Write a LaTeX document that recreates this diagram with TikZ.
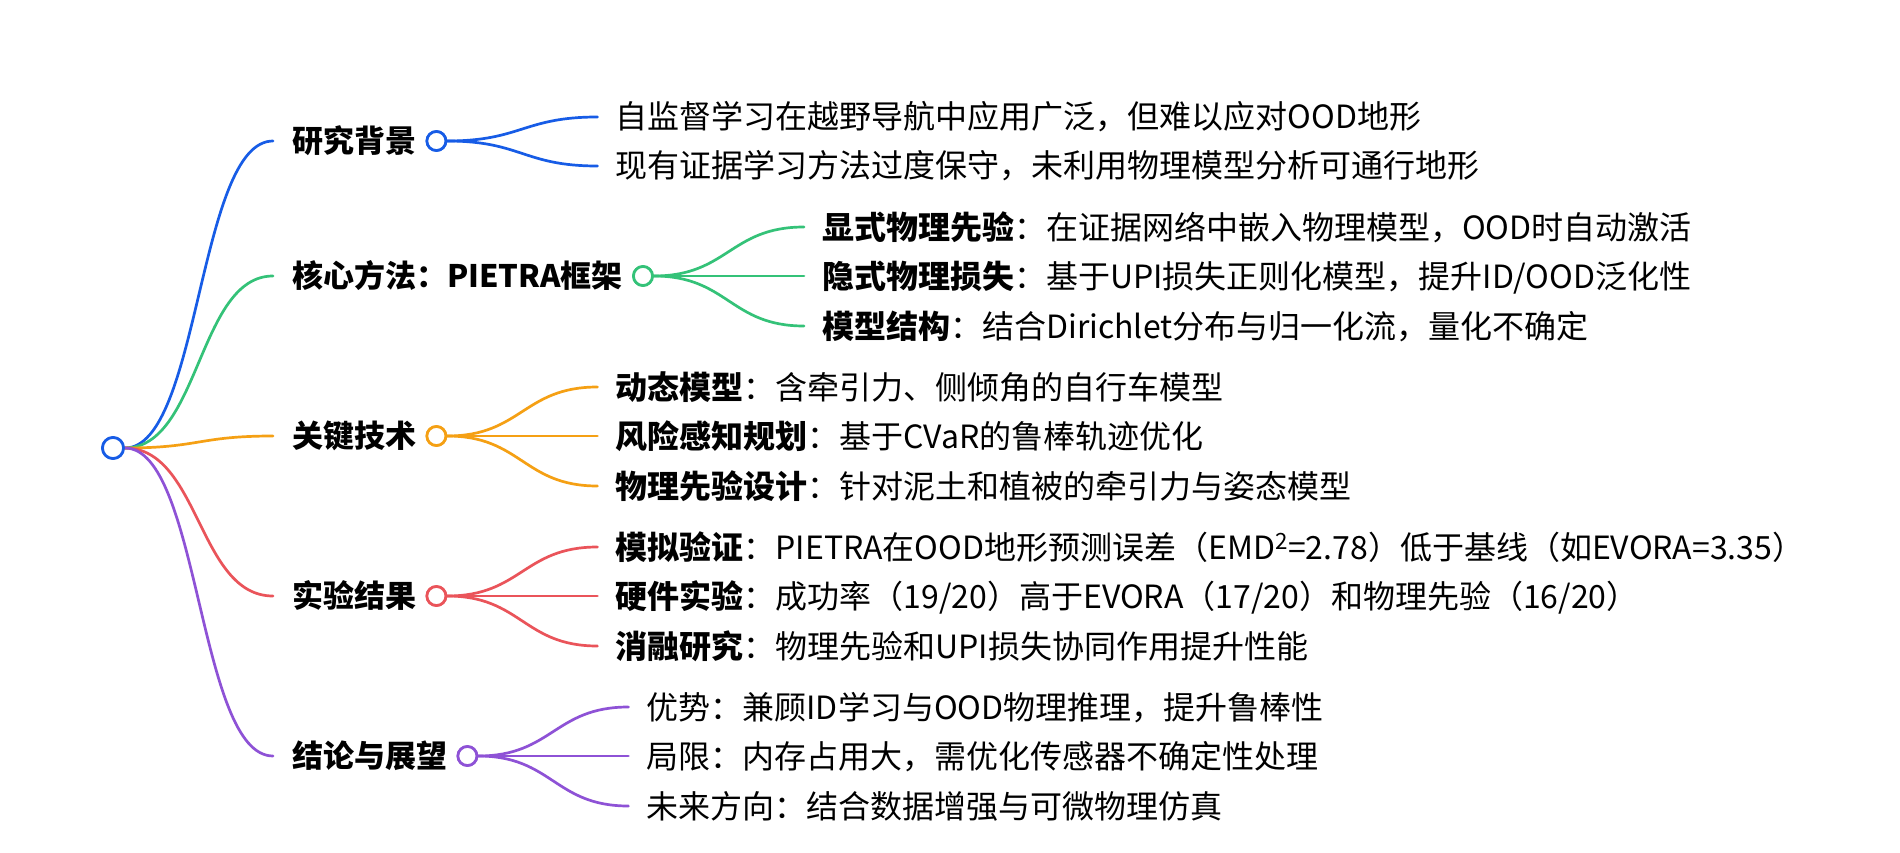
\documentclass[tikz,border=0pt]{standalone}
\usepackage{fontspec}
\setmainfont{Noto Sans CJK SC}
\usetikzlibrary{calc}
\definecolor{cblue}{RGB}{23,92,230}
\definecolor{cgreen}{RGB}{52,194,120}
\definecolor{corange}{RGB}{245,160,20}
\definecolor{cred}{RGB}{234,84,90}
\definecolor{cpurple}{RGB}{142,82,214}
\tikzset{
  lnk/.style={line width=2.7pt, line cap=round},
  dot/.style={circle, draw, line width=2.7pt, fill=white, minimum size=19pt, inner sep=0pt},
  rootdot/.style={circle, draw, line width=2.7pt, fill=white, minimum size=21pt, inner sep=0pt},
  br/.style={anchor=west, inner sep=0pt, font=\fontsize{31}{37}\selectfont\bfseries, text height=27pt, text depth=4pt},
  leaf/.style={anchor=west, inner sep=0pt, font=\fontsize{32}{38}\selectfont, text height=28pt, text depth=4pt},
}
\begin{document}
\begin{tikzpicture}[x=1pt,y=-1pt]
\useasboundingbox[fill=white] (0,0) rectangle (1900,853);
% root
\node[rootdot, draw=cblue] (root) at (113,448) {};
% branch labels
\node[br] (t1) at (292,141) {研究背景};
\node[br] (t2) at (292,276) {核心方法：PIETRA框架};
\node[br] (t3) at (292,436) {关键技术};
\node[br] (t4) at (292,596) {实验结果};
\node[br] (t5) at (292,756) {结论与展望};
% branch line ends
\coordinate (s1) at (273,141);
\coordinate (s2) at (273,276);
\coordinate (s3) at (273,436);
\coordinate (s4) at (273,596);
\coordinate (s5) at (273,756);
% branch circles
\coordinate (c1) at ($(t1.east)+(20,0)$);
\coordinate (c2) at ($(t2.east)+(20,0)$);
\coordinate (c3) at ($(t3.east)+(20,0)$);
\coordinate (c4) at ($(t4.east)+(20,0)$);
\coordinate (c5) at ($(t5.east)+(20,0)$);
% leaves
\node[leaf] (l11) at ($(c1|-0,117)+(179,0)$) {自监督学习在越野导航中应用广泛，但难以应对OOD地形};
\node[leaf] (l12) at ($(c1|-0,166)+(179,0)$) {现有证据学习方法过度保守，未利用物理模型分析可通行地形};
\node[leaf] (l21) at ($(c2|-0,227)+(179,0)$) {\textbf{显式物理先验}：在证据网络中嵌入物理模型，OOD时自动激活};
\node[leaf] (l22) at ($(c2|-0,276)+(179,0)$) {\textbf{隐式物理损失}：基于UPI损失正则化模型，提升ID/OOD泛化性};
\node[leaf] (l23) at ($(c2|-0,326)+(179,0)$) {\textbf{模型结构}：结合Dirichlet分布与归一化流，量化不确定};
\node[leaf] (l31) at ($(c3|-0,387)+(179,0)$) {\textbf{动态模型}：含牵引力、侧倾角的自行车模型};
\node[leaf] (l32) at ($(c3|-0,436)+(179,0)$) {\textbf{风险感知规划}：基于CVaR的鲁棒轨迹优化};
\node[leaf] (l33) at ($(c3|-0,486)+(179,0)$) {\textbf{物理先验设计}：针对泥土和植被的牵引力与姿态模型};
\node[leaf] (l41) at ($(c4|-0,547)+(179,0)$) {\textbf{模拟验证}：PIETRA在OOD地形预测误差（EMD\textsuperscript{2}=2.78）低于基线（如EVORA=3.35）};
\node[leaf] (l42) at ($(c4|-0,596)+(179,0)$) {\textbf{硬件实验}：成功率（19/20）高于EVORA（17/20）和物理先验（16/20）};
\node[leaf] (l43) at ($(c4|-0,646)+(179,0)$) {\textbf{消融研究}：物理先验和UPI损失协同作用提升性能};
\node[leaf] (l51) at ($(c5|-0,707)+(179,0)$) {优势：兼顾ID学习与OOD物理推理，提升鲁棒性};
\node[leaf] (l52) at ($(c5|-0,756)+(179,0)$) {局限：内存占用大，需优化传感器不确定性处理};
\node[leaf] (l53) at ($(c5|-0,806)+(179,0)$) {未来方向：结合数据增强与可微物理仿真};
% root links
\draw[lnk, cblue]   (root.east) .. controls +(75,0) and +(-75,0) .. (s1);
\draw[lnk, cgreen]  (root.east) .. controls +(75,0) and +(-75,0) .. (s2);
\draw[lnk, corange] (root.east) .. controls +(75,0) and +(-75,0) .. (s3);
\draw[lnk, cred]    (root.east) .. controls +(75,0) and +(-75,0) .. (s4);
\draw[lnk, cpurple] (root.east) .. controls +(75,0) and +(-75,0) .. (s5);
\node[rootdot, draw=cblue] at (root) {};
% branch circles nodes
\node[dot, draw=cblue]   (d1) at (c1) {};
\node[dot, draw=cgreen]  (d2) at (c2) {};
\node[dot, draw=corange] (d3) at (c3) {};
\node[dot, draw=cred]    (d4) at (c4) {};
\node[dot, draw=cpurple] (d5) at (c5) {};
% leaf links
\foreach \b/\l/\c in {1/1/cblue,1/2/cblue,2/1/cgreen,2/2/cgreen,2/3/cgreen,3/1/corange,3/2/corange,3/3/corange,4/1/cred,4/2/cred,4/3/cred,5/1/cpurple,5/2/cpurple,5/3/cpurple}{
  \coordinate (e\b\l) at ($(l\b\l.west)+(-18,0)$);
  \draw[lnk, \c] (d\b.east) .. controls +(74,0) and +(-74,0) .. (e\b\l);
}
\foreach \b/\c in {1/cblue,2/cgreen,3/corange,4/cred,5/cpurple}{
  \node[dot, draw=\c] at (d\b) {};
}
\end{tikzpicture}
\end{document}
